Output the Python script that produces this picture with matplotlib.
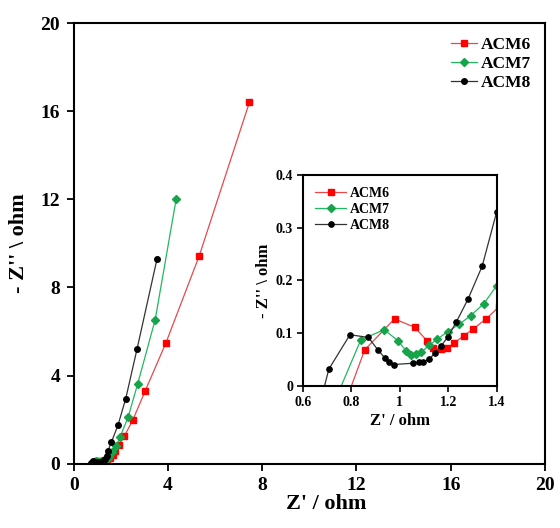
import numpy as np
import matplotlib
matplotlib.use("Agg")
import matplotlib.pyplot as plt

plt.rcParams['font.family'] = ['Liberation Serif', 'DejaVu Serif']
plt.rcParams['font.weight'] = 'bold'

# Nyquist data, Z' and -Z'' in ohm (first point of each series is the curve start, no marker)
acm6_x = [0.80, 0.855, 0.978, 1.062, 1.112, 1.138, 1.168, 1.195, 1.223, 1.264, 1.303, 1.356,
          1.41, 1.52, 1.64, 1.76, 1.91, 2.14, 2.51, 3.03, 3.91, 5.32, 7.45]
acm6_y = [0.0, 0.0685, 0.127, 0.111, 0.0856, 0.071, 0.0697, 0.071, 0.081, 0.095, 0.108, 0.127,
          0.15, 0.24, 0.37, 0.55, 0.86, 1.24, 2.0, 3.31, 5.49, 9.43, 16.4]

acm7_x = [0.758, 0.839, 0.935, 0.992, 1.025, 1.046, 1.065, 1.089, 1.120, 1.154, 1.198, 1.244,
          1.292, 1.347, 1.40, 1.50, 1.63, 1.80, 1.96, 2.30, 2.71, 3.45, 4.34]
acm7_y = [0.0, 0.0875, 0.1065, 0.086, 0.067, 0.059, 0.060, 0.064, 0.0767, 0.0887, 0.103, 0.1166,
          0.133, 0.156, 0.19, 0.30, 0.51, 0.78, 1.22, 2.1, 3.63, 6.53, 12.0]

acm8_x = [0.689, 0.707, 0.794, 0.870, 0.910, 0.939, 0.957, 0.974, 1.053, 1.078, 1.096, 1.122,
          1.144, 1.169, 1.198, 1.233, 1.281, 1.340, 1.40, 1.45, 1.59, 1.87, 2.20, 2.68, 3.53]
acm8_y = [0.0, 0.032, 0.097, 0.092, 0.068, 0.0526, 0.045, 0.0406, 0.043, 0.045, 0.045, 0.051,
          0.062, 0.075, 0.0925, 0.121, 0.164, 0.227, 0.33, 0.59, 0.97, 1.74, 2.95, 5.2, 9.3]

series = [
    ("ACM6", acm6_x, acm6_y, "#ff0000", "#e8484a", "s"),
    ("ACM7", acm7_x, acm7_y, "#16a34a", "#22b860", "D"),
    ("ACM8", acm8_x, acm8_y, "#000000", "#333333", "o"),
]
main_ms = {"s": 4.2, "D": 4.0, "o": 4.0}
ins_ms = {"s": 4.0, "D": 3.6, "o": 3.8}

fig = plt.figure(figsize=(5.6, 5.28), dpi=100)
ax = fig.add_axes([0.132, 0.122, 0.841, 0.834])

for name, xs, ys, mc, lc, mk in series:
    ax.plot(xs, ys, color=lc, lw=0.9, marker=mk, ms=main_ms[mk], mfc=mc, mec=mc,
            markevery=list(range(1, len(xs))), label=name)

ax.set_xlim(0, 20)
ax.set_ylim(0, 20)
ax.set_xticks(np.arange(0, 21, 4))
ax.set_yticks(np.arange(0, 21, 4))
ax.tick_params(direction='out', length=5, width=1.3, labelsize=14, pad=5)
for sp in ax.spines.values():
    sp.set_linewidth(1.5)
ax.set_xlabel("Z' / ohm", fontsize=16, fontweight='bold')
ax.xaxis.set_label_coords(0.535, -0.07)
ax.set_ylabel("- Z'' \\ ohm", fontsize=16, fontweight='bold', labelpad=8)
ax.legend(loc='upper right', frameon=False, handlelength=1.5,
          handletextpad=0.2, labelspacing=0.15, borderaxespad=0.4,
          prop={'weight': 'bold', 'size': 12.5})

# inset
ins = fig.add_axes([0.541, 0.269, 0.346, 0.400])
for name, xs, ys, mc, lc, mk in series:
    ins.plot(xs, ys, color=lc, lw=0.9, marker=mk, ms=ins_ms[mk], mfc=mc, mec=mc,
             markevery=list(range(1, len(xs))), label=name)
ins.set_xlim(0.6, 1.4)
ins.set_ylim(0, 0.4)
ins.set_xticks([0.6, 0.8, 1.0, 1.2, 1.4])
ins.set_xticklabels(["0.6", "0.8", "1", "1.2", "1.4"])
ins.set_yticks([0, 0.1, 0.2, 0.3, 0.4])
ins.set_yticklabels(["0", "0.1", "0.2", "0.3", "0.4"])
ins.tick_params(direction='out', length=4, width=1.2, labelsize=10, pad=3)
for sp in ins.spines.values():
    sp.set_linewidth(1.5)
ins.set_xlabel("Z' / ohm", fontsize=12, fontweight='bold', labelpad=3)
ins.set_ylabel("- Z'' \\ ohm", fontsize=12, fontweight='bold', labelpad=3)
ins.legend(loc='upper left', frameon=False, handlelength=2.2, handletextpad=0.3,
           labelspacing=0.2, borderaxespad=0.5, prop={'weight': 'bold', 'size': 10})

fig.savefig("out.png", dpi=100)
